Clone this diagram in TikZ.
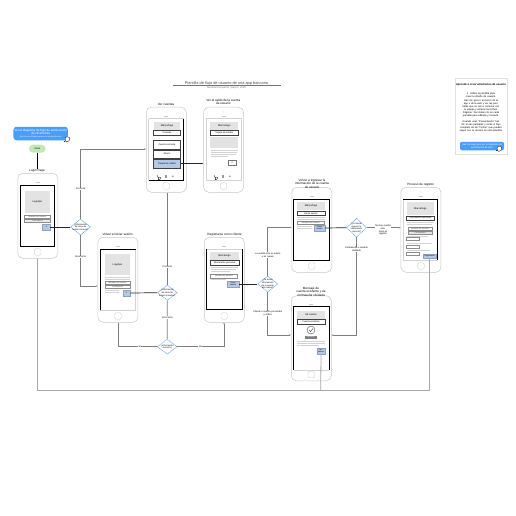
\documentclass[tikz,border=0pt]{standalone}
\usepackage{fontspec}
\setmainfont{Liberation Sans}
\usetikzlibrary{calc,arrows.meta,shapes.geometric}
\definecolor{edgegray}{HTML}{7F7F7F}
\definecolor{longgray}{HTML}{A8A8A8}
\definecolor{shell}{HTML}{C9C9C9}
\definecolor{logo}{HTML}{E3E3E3}
\definecolor{thin}{HTML}{D2D2D2}
\definecolor{btn}{HTML}{B4C9E6}
\definecolor{callout}{HTML}{4A9DFA}
\definecolor{pill}{HTML}{C3E8B6}
\definecolor{dia}{HTML}{5B9BE6}
\tikzset{
  phonebox/.style={draw=shell,line width=.5pt,rounded corners=5pt,minimum width=40pt,minimum height=85pt,inner sep=0,anchor=north west,fill=white},
  homebtn/.style={draw=shell,line width=.35pt,rounded corners=1.5pt,minimum size=6.5pt,inner sep=0},
  title/.style={font=\fontsize{3.1}{3.6}\selectfont,align=center,inner sep=0},
  logobox/.style={fill=logo,inner sep=0,font=\fontsize{2.5}{3}\selectfont},
  hdrbox/.style={draw=black!75,line width=.55pt,fill=white,inner sep=0,font=\fontsize{2.3}{3}\selectfont},
  inputbox/.style={draw=black!45,line width=.3pt,fill=white,inner sep=0,font=\fontsize{2.1}{3}\selectfont},
  bluebtn/.style={fill=btn,draw=btn!80!black,line width=.25pt,inner sep=0,font=\fontsize{2}{2.4}\selectfont,align=center},
  deci/.style={diamond,draw=dia,line width=.5pt,dash pattern=on 1.2pt off .6pt,fill=white,inner sep=0,minimum width=20pt,minimum height=16pt},
  decitxt/.style={inner sep=0,font=\fontsize{2.2}{2.6}\selectfont,align=center},
  ed/.style={draw=edgegray,line width=.6pt,-{Latex[length=1.6pt,width=1.4pt]}},
  edn/.style={draw=edgegray,line width=.6pt},
  eb/.style={draw=black!85,line width=.7pt,-{Latex[length=1.6pt,width=1.4pt]}},
  lg/.style={draw=longgray,line width=.8pt},
  edlab/.style={fill=white,inner sep=.4pt,font=\fontsize{2.4}{2.8}\selectfont,align=center},
  sl/.style={draw=thin,line width=.6pt},
  scr/.style={draw=black,line width=.7pt},
  scrl/.style={draw=thin,line width=.5pt}
}
\newcommand{\phone}[3]{%
  \node[phonebox] (#1) at (#2,#3) {};
  \node[homebtn] (#1home) at ($(#1.south)+(0,-6.5)$) {};
  \node[draw=shell,circle,inner sep=0,minimum size=.7pt,line width=.2pt] (#1dot) at ($(#1.north)+(0,5)$) {};
  \draw[shell,line width=.3pt] ($(#1.north)+(-2,9)$) -- ($(#1.north)+(2,9)$);
}
\newcommand{\hand}[3][1]{%
  \begin{scope}[shift={(#2,#3)},scale=#1]
    \draw[black!80,fill=white,line width=.45pt] (-1.8,-.6) .. controls (-2.6,-2.6) and (1.6,-3.4) .. (2.6,-1.6) .. controls (3.2,.6) and (1.8,2.4) .. (-.2,2.4) .. controls (-1.4,2.2) and (-2.2,1) .. (-1.8,-.6) -- cycle;
    \fill[black!80] (-3,1.1) rectangle (-1.6,1.7);
  \end{scope}}
\newcommand{\navicons}[2]{%
  \draw[black!70,line width=.5pt] (#1-1,#2-1.5) .. controls (#1-1,#2+.5) and (#1,#2+1.2) .. (#1+1.2,#2+1.5);
  \hand[.5]{#1+1.2}{#2+2}
  \fill[black!40] (#1+6.8,#2-1.2) rectangle (#1+9.4,#2+1.4);
  \fill[black!40] (#1+14.8,#2) circle (.9);
}
\begin{document}
\begin{tikzpicture}[x=1pt,y=-1pt]
\useasboundingbox (0,0) rectangle (516,516);
\fill[white] (0,0) rectangle (516,516);

% Title
\node[font=\fontsize{3.9}{5}\selectfont,text=black!70,inner sep=0] (ttl) at (226.5,83.3) {Plantilla de flujo de usuario de una app bancaria};
\coordinate (ruleL) at (172.5,85.5);
\coordinate (ruleR) at (281,85.5);
\draw[black!55,line width=.5pt] (ruleL) -- (ruleR);
\node[font=\fontsize{2.6}{3}\selectfont,text=black!55,inner sep=0] (sub) at (226.5,87.8) {Nombre/Compañía | Sept 3, 2020};

% Callout and start
\node[fill=callout,rounded corners=3pt,minimum width=54.5pt,minimum height=13.5pt,inner sep=0,text=white,align=center,font=\fontsize{3}{3.6}\selectfont] (call) at (40.7,133.5) {Ver el diagrama de flujo de autorización\\de clics/fichas\\[-.6pt]{\fontsize{2}{2.4}\selectfont Haz clic en el botón para ver la versión de clics}};
\hand{67}{139.5}
\node[fill=pill,rounded corners=4pt,minimum width=16.5pt,minimum height=8pt,inner sep=0,font=\fontsize{2.5}{3}\selectfont] (inicio) at (37.3,148.7) {Inicio};

% Phones
\phone{login}{17.5}{173}
\phone{volver}{97.7}{237}
\phone{cuentas}{146}{107}
\phone{saldo}{203.3}{107}
\phone{regis}{204}{237}
\phone{ingreso}{291.5}{187}
\phone{proceso}{400.7}{187}
\phone{mensaje}{291}{295.5}

\node[title] (tLogin) at (37,170.6) {Login Page};
\node[title] (tVolver) at (117.5,234.3) {Volver a iniciar sesión};
\node[title] (tCuentas) at (166,104) {Ver cuentas};
\node[title] (tSaldo) at (223.3,101.8) {Ver el saldo de la cuenta\\de usuario};
\node[title] (tRegis) at (224.5,234.3) {Registrarse como cliente};
\node[title] (tIngreso) at (312,183.5) {Volver a ingresar la\\información de la cuenta\\de usuario};
\node[title] (tProceso) at (420.7,184.2) {Proceso de registro};
\node[title] (tMensaje) at (311,291.5) {Mensaje de\\cuenta existente y de\\contraseña olvidada};

% Login screen
\draw[scr] (20.5,185.3) rectangle (54.5,246.3);
\node[logobox,minimum width=25.5pt,minimum height=21.7pt] (lgLogo) at (37.3,202) {Logotipo};
\node[inputbox,minimum width=25.5pt,minimum height=3.4pt,text=black!70] (lgU) at (37.3,216.7) {Nombre de usuario};
\node[inputbox,minimum width=25.5pt,minimum height=3.4pt,fill=black!8,text=black!70] (lgP) at (37.3,220.8) {Contraseña};
\node[bluebtn,minimum width=7.6pt,minimum height=6pt] (lgB) at (46.4,227) {Ir};

% Volver screen
\draw[scrl] (100.4,249) rectangle (135.6,310);
\draw[scr] (100.4,310) -- (100.4,249) -- (135.6,249);
\node[logobox,minimum width=25pt,minimum height=21pt] (voLogo) at (117.5,264.5) {Logotipo};
\draw[sl] (105,277) -- (130,277) (105,279) -- (130,279);
\node[inputbox,minimum width=25pt,minimum height=3.2pt,text=black!70] (voU) at (117.5,282.3) {Nombre de usuario};
\node[inputbox,minimum width=25pt,minimum height=3.2pt,text=black!70] (voP) at (117.5,286.7) {Contraseña};
\draw[sl] (105,290.3) -- (119,290.3) (105,292.5) -- (119,292.5);
\node[bluebtn,minimum width=7.6pt,minimum height=6pt] (voB) at (126.5,293) {Ir};

% Cuentas screen
\draw[scrl] (148.6,118.5) -- (148.6,180);
\draw[scr] (148.6,180.3) -- (183.7,180.3) -- (183.7,118.5);
\draw[scrl] (148.6,118.5) -- (183.7,118.5);
\node[logobox,minimum width=26.8pt,minimum height=8.3pt] (cuLogo) at (167,125.8) {Marca/logo};
\node[hdrbox,minimum width=27.2pt,minimum height=4.6pt] (cuHdr) at (167,132.5) {Cuentas};
\node[hdrbox,minimum width=27.2pt,minimum height=8.4pt] (cuA) at (167,144.8) {Cuenta corriente};
\node[hdrbox,minimum width=27.2pt,minimum height=8.4pt] (cuB) at (167,154.1) {Ahorro};
\node[hdrbox,fill=btn,minimum width=27.2pt,minimum height=8.8pt] (cuC) at (167,163.6) {Tarjeta de crédito};
\navicons{158}{176.3}

% Saldo screen
\draw[scrl] (206,118.5) rectangle (241,180);
\node[logobox,minimum width=28pt,minimum height=8.3pt] (saLogo) at (224.3,125.8) {Marca/logo};
\node[hdrbox,minimum width=28.4pt,minimum height=4.6pt] (saHdr) at (224.3,132.5) {Tarjeta de crédito};
\fill[logo] (210,136.8) rectangle (238,148);
\draw[sl] (211,150) -- (238,150) (211,152) -- (237,152) (211,154) -- (236,154) (211,156) -- (228,156);
\node[inputbox,draw=black!55,minimum width=7.6pt,minimum height=5pt] (saB) at (232.3,162.5) {Ir};
\navicons{215}{176.3}

% Registrar screen
\draw[scrl] (206.7,249.3) -- (242,249.3);
\draw[scr] (206.7,249.3) -- (206.7,309.3) -- (242,309.3) -- (242,249.3);
\node[logobox,minimum width=29pt,minimum height=8.3pt] (reLogo) at (224.5,256) {Marca/logo};
\node[hdrbox,minimum width=28.6pt,minimum height=4.6pt] (reHdr) at (224.5,262.5) {Información personal};
\draw[sl] (210.5,267) -- (238,267) (210.5,269) -- (236,269) (210.5,271) -- (230,271);
\node[inputbox,minimum width=27pt,minimum height=3.6pt,text=black!70] (reU) at (224,276) {Nombre de usuario};
\draw[sl] (210.5,279.3) -- (226,279.3);
\node[bluebtn,minimum width=12pt,minimum height=6pt] (reB) at (233,284) {Crear\\cuenta};

% Ingreso screen
\draw[scr] (293.8,199) rectangle (329,260);
\node[logobox,minimum width=28.4pt,minimum height=8.3pt] (inLogo) at (311,206) {Marca/logo};
\node[hdrbox,minimum width=28.4pt,minimum height=4.6pt] (inHdr) at (311,213.4) {Iniciar sesión};
\draw[sl] (297,217.5) -- (325,217.5) (297,219.5) -- (325,219.5);
\node[inputbox,minimum width=27pt,minimum height=3.2pt,text=black!70] (inU) at (310.5,222.6) {Nombre de usuario};
\draw[sl] (297,226) -- (312,226) (297,228) -- (312,228);
\node[bluebtn,minimum width=11pt,minimum height=6pt] (inB) at (319.5,228) {Iniciar\\sesión};

% Proceso screen
\draw[scrl] (402.8,199) rectangle (437.7,260);
\draw[scr] (402.8,199) -- (437.7,199) -- (437.7,260);
\node[logobox,minimum width=27.4pt,minimum height=13pt] (prLogo) at (420.4,208.5) {Marca/logo};
\node[hdrbox,minimum width=28.6pt,minimum height=3.8pt] (prHdr) at (420.4,218) {Información personal};
\draw[sl] (407,222) -- (434,222) (407,224) -- (432,224);
\node[inputbox,minimum width=24pt,minimum height=3.2pt,text=black!70] (prU) at (420,228.4) {Nombre de usuario};
\node[inputbox,fill=black!10,minimum width=24pt,minimum height=3.2pt,text=black!70] (prP) at (420,232.7) {Contraseña};
\draw[sl] (406.5,236) -- (428,236);
\node[inputbox,minimum width=13pt,minimum height=3pt] (prC) at (412.6,238.7) {};
\draw[sl] (406.5,243) -- (432,243);
\node[inputbox,minimum width=13pt,minimum height=3pt] (prD) at (412.6,246.3) {};
\draw[sl] (406.5,250) -- (430,250);
\node[inputbox,minimum width=13pt,minimum height=3pt] (prE) at (412.6,253.5) {};
\node[bluebtn,minimum width=13pt,minimum height=4.6pt] (prB) at (429.5,256) {Registrarse};

% Mensaje screen
\draw[scr] (293.7,370) -- (293.7,306.7) -- (329,306.7) -- (329,370);
\draw[scrl] (293.7,370) -- (329,370);
\node[logobox,minimum width=28pt,minimum height=8pt] (meLogo) at (311,315) {Mi cuenta};
\node[hdrbox,minimum width=28pt,minimum height=4.4pt] (meHdr) at (311,321.8) {Cuenta existente};
\node[circle,draw=black!70,line width=.4pt,fill=white,minimum size=8pt,inner sep=0] (meOk) at (311,330) {};
\draw[black!70,line width=.45pt] (309.2,330.2) -- (310.6,331.6) -- (313,328.4);
\node[fill=black!50,text=white,minimum width=12pt,minimum height=2.6pt,inner sep=0,font=\fontsize{1.6}{2}\selectfont] (meBtn) at (311,337.3) {Reintentar};
\draw[sl] (297,341) -- (325,341) (297,343) -- (325,343) (297,345) -- (319,345);
\node[bluebtn,minimum width=8pt,minimum height=6pt] (meB) at (321,351) {Ini.\\sesión};

% Decisions
\node[deci] (d1) at (80.5,227) {};
\node[decitxt] (d1t) at (d1) {¿Información\\de inicio de\\sesión correcta?};
\node[deci,minimum height=15pt] (d2) at (167.3,292.7) {};
\node[decitxt] (d2t) at (d2) {¿Información\\de inicio de\\sesión correcta?};
\node[deci,minimum height=15pt] (d3) at (167.2,346.7) {};
\node[decitxt] (d3t) at (d3) {¿Información\\correcta?};
\node[deci] (d4) at (267.7,284) {};
\node[decitxt] (d4t) at (d4) {¿Ya existe\\información\\de la cuenta\\del cliente?};
\node[deci,minimum height=19pt] (d5) at (356.5,227.7) {};
\node[decitxt] (d5t) at (d5) {¿El cliente\\ingresó la\\información\\correcta?};

% Helper corners
\coordinate (c1) at (80.5,149);
\coordinate (c2) at (80.5,286);
\coordinate (c3) at (118.4,346.7);
\coordinate (c4) at (224,346.7);
\coordinate (c5) at (267.7,227.5);
\coordinate (c6) at (267.7,335);
\coordinate (c7) at (356.5,335);
\coordinate (b1) at (37.5,390);
\coordinate (b2) at (320.7,390);
\coordinate (b3) at (429.5,390);

% Connectors
\draw[draw=black,line width=.8pt] (inicio.south) -- (tLogin.north -| inicio.south);
\draw[eb,-] (lgB.east) -- (d1.west);
\draw[ed] (d1.north) -- (c1) -- (c1 -| cuentas.west);
\draw[ed] (d1.south) -- (c2) -- (c2 -| volver.west);
\draw[eb,-] (voB.east) -- (d2.west);
\draw[ed] (d2.north) -- (d2.north |- cuentas.south);
\draw[ed] (d2.south) -- (d3.north);
\draw[ed] (d3.west) -- (c3) -- (c3 |- volver.south);
\draw[ed] (d3.east) -- (c4) -- (c4 |- regis.south);
\draw[eb] (cuC.east) -- (cuC.east -| saldo.west);
\draw[eb,-] (reB.east) -- (d4.west);
\draw[ed] (d4.north) -- (c5) -- (c5 -| ingreso.west);
\draw[ed] (d4.south) -- (c6) -- (c6 -| mensaje.west);
\draw[eb,-] (inB.east) -- (d5.west);
\draw[ed] (d5.east) -- (d5.east -| proceso.west);
\draw[ed] (d5.south) -- (c7) -- (c7 -| mensaje.east);
\draw[lg,-{Latex[length=1.6pt,width=1.6pt]}] (b3) -- (b1) -- (b1 |- login.south);
\draw[lg] (prB.south) -- (b3);
\draw[lg] (meB.south) -- (b2);

% Edge labels
\node[edlab] (l1) at (80.5,189) {Correcta};
\node[edlab] (l2) at (80.5,257) {Incorrecta};
\node[edlab] (l3) at (167.3,267) {Correcta};
\node[edlab] (l4) at (167.3,317.5) {Incorrecta};
\node[edlab] (l5) at (139.7,346.7) {Sí};
\node[edlab] (l6) at (200.3,346.7) {No};
\node[edlab] (l7) at (267.7,255) {La cuenta aún no existe\\o es nueva};
\node[edlab] (l8) at (267.7,313.5) {Cliente o cuenta ya existen\\y activa};
\node[edlab] (l9) at (383,230) {No hay cuenta\\aún;\\inicia el\\registro};
\node[edlab] (l10) at (356.5,249.5) {Contraseña o usuario\\olvidado};

% Side card
\fill[black!25] (456,79.3) rectangle (507.5,155);
\node[draw=black!12,fill=white,line width=.3pt,minimum width=51.5pt,minimum height=75.5pt,inner sep=0] (card) at (481,116) {};
\node[font=\bfseries\fontsize{2.7}{3.2}\selectfont,inner sep=0] (cardT) at (481,84.8) {Aprende a crear wireframes de usuario};
\node[font=\fontsize{2.5}{3.05}\selectfont,align=center,inner sep=0,text width=45pt] (cardB) at (481,112.5) {1.\enspace Utiliza la plantilla para crear tu diseño de usuario.\\[1pt]
Haz clic para ir al marco de la app o de la web y ver las pantallas que se van a conectar con tu equipo y enlazar las fichas.\\
Páginas: haz doble clic en cada pantalla para editarla y moverla.\\[2.5pt]
Cuando uses “Presentación” haz clic en las pantallas y verás el flujo completo de las “Fichas” que puedes seguir con tu usuario en esta plantilla.};
\node[fill=callout,rounded corners=2pt,minimum width=44pt,minimum height=8.5pt,inner sep=0,text=white,align=center,font=\fontsize{2.4}{2.9}\selectfont] (cardBtn) at (482,146) {Haz clic aquí para ver el diagrama de\\autorización de clics};
\hand{499}{149}
\end{tikzpicture}
\end{document}
